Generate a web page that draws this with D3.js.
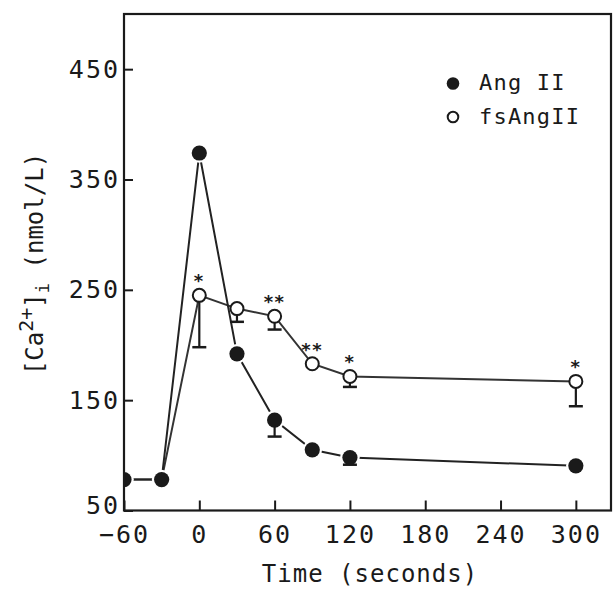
<!doctype html>
<html lang="en">
  <head>
    <meta charset="utf-8">
    <title>Ca2+ response to Ang II</title>
    <style>
      body { margin: 0; background: #fff; }
      svg { display: block; }
      text { font-family: "DejaVu Sans Mono", monospace; fill: #1a1a1a; }
    </style>
  </head>
  <body>
    <script src="https://cdn.jsdelivr.net/npm/d3@7"></script>
    <script>

// time points (seconds)
var times = [-60, -30, 0, 30, 60, 90, 120, 300];

// Ang II (filled circles)
var angII    = [78, 78, 374, 192, 132, 105, 98, 90.5];
var angIILow = [null, null, null, null, 117, null, 91.5, null];

// fsAngII (open circles)
var fsAngII    = [78, 78, 245, 233, 226, 183, 171.5, 167];
var fsAngIILow = [null, null, 198, 221, 214, null, 162, 144.5];
var fsStars    = ["", "", "*", "", "**", "**", "*", "*"];

var xTicks = [-60, 0, 60, 120, 180, 240, 300];
var yTicks = [50, 150, 250, 350, 450];

var margin = {top: 14, right: 2, bottom: 81.5, left: 124},
    width  = 613 - margin.left - margin.right,
    height = 592 - margin.top  - margin.bottom;

var svg = d3.select("body")
    .append("svg")
    .attr("width", 613)
    .attr("height", 592);

var chart = svg.append("g")
    .attr("transform", "translate(" + margin.left + "," + margin.top + ")");

var x = d3.scaleLinear().domain([-60, 328]).range([0, width]);
var y = d3.scaleLinear().domain([50, 500]).range([height, 0]);

svg.append("defs").append("clipPath").attr("id", "plotclip")
   .append("rect").attr("width", width).attr("height", height);

function rows(vals, lows) {
    return times.map(function(t, i){ return {t: t, v: vals[i], low: lows[i], i: i}; });
}
var filled = rows(angII, angIILow);
var open   = rows(fsAngII, fsAngIILow);

var line = d3.line()
    .x(function(d){ return x(d.t); })
    .y(function(d){ return y(d.v); });

var plot = chart.append("g").attr("clip-path", "url(#plotclip)");

// lines
plot.append("path").datum(open)
    .attr("d", line).attr("fill", "none")
    .attr("stroke", "#333").attr("stroke-width", 2);
plot.append("path").datum(filled)
    .attr("d", line).attr("fill", "none")
    .attr("stroke", "#222").attr("stroke-width", 2);

function errorBars(data) {
    var bars = plot.selectAll(null)
        .data(data.filter(function(d){ return d.low != null; }))
        .enter().append("g");
    bars.append("line")
        .attr("x1", function(d){ return x(d.t); })
        .attr("x2", function(d){ return x(d.t); })
        .attr("y1", function(d){ return y(d.v); })
        .attr("y2", function(d){ return y(d.low); })
        .attr("stroke", "#1a1a1a").attr("stroke-width", 2.2);
    bars.append("line")
        .attr("x1", function(d){ return x(d.t) - 7; })
        .attr("x2", function(d){ return x(d.t) + 7; })
        .attr("y1", function(d){ return y(d.low); })
        .attr("y2", function(d){ return y(d.low); })
        .attr("stroke", "#1a1a1a").attr("stroke-width", 2.5);
}

// open series
errorBars(open);
plot.selectAll(".open")
    .data(open)
    .enter().append("circle")
    .attr("class", "open")
    .attr("cx", function(d){ return x(d.t); })
    .attr("cy", function(d){ return y(d.v); })
    .attr("r", 6.5)
    .attr("fill", "#fff")
    .attr("stroke", "#1a1a1a")
    .attr("stroke-width", 2);

// filled series: white halo so lines stop short of the dots
plot.selectAll(".halo")
    .data(filled)
    .enter().append("circle")
    .attr("cx", function(d){ return x(d.t); })
    .attr("cy", function(d){ return y(d.v); })
    .attr("r", 9.8)
    .attr("fill", "#fff");
errorBars(filled);
plot.selectAll(".dot")
    .data(filled)
    .enter().append("circle")
    .attr("class", "dot")
    .attr("cx", function(d){ return x(d.t); })
    .attr("cy", function(d){ return y(d.v); })
    .attr("r", 7.6)
    .attr("fill", "#1a1a1a");

// significance stars
chart.selectAll(".star")
    .data(open.filter(function(d){ return fsStars[d.i] !== ""; }))
    .enter().append("text")
    .attr("class", "star")
    .attr("x", function(d){ return x(d.t); })
    .attr("y", function(d){ return y(d.v) - 8; })
    .attr("text-anchor", "middle")
    .attr("fill", "#111")
    .style("font-family", "'DejaVu Sans', sans-serif")
    .style("font-weight", "bold")
    .style("font-size", "18px")
    .style("letter-spacing", "1.5px")
    .text(function(d){ return fsStars[d.i]; });

// frame
chart.append("rect")
    .attr("width", width).attr("height", height)
    .attr("fill", "none")
    .attr("stroke", "#1a1a1a")
    .attr("stroke-width", 2.2);

// axes
var xAxis = chart.append("g")
    .attr("transform", "translate(0," + height + ")")
    .call(d3.axisBottom(x).tickValues(xTicks).tickSizeInner(-10).tickSizeOuter(0).tickPadding(15));
var yAxis = chart.append("g")
    .call(d3.axisLeft(y).tickValues(yTicks).tickSizeInner(-9).tickSizeOuter(0).tickPadding(4));

[xAxis, yAxis].forEach(function(a){
    a.select(".domain").remove();
    a.selectAll("line").attr("stroke", "#1a1a1a").attr("stroke-width", 2);
    a.selectAll("text")
        .attr("fill", "#222")
        .style("font-family", "'DejaVu Sans Mono', monospace")
        .style("font-size", "25px")
        .style("letter-spacing", "2px");
});
// lift the bottom y label a little so it clears "-60"
yAxis.selectAll(".tick text").filter(function(d){ return d === 50; }).attr("dy", "0.1em");

// axis titles
svg.append("text")
    .attr("x", 370).attr("y", 582)
    .attr("text-anchor", "middle")
    .attr("fill", "#222")
    .style("font-size", "24px")
    .style("letter-spacing", "1px")
    .text("Time (seconds)");

var yt = svg.append("text")
    .attr("transform", "translate(43,264) rotate(-90)")
    .attr("text-anchor", "middle")
    .attr("fill", "#222")
    .style("font-size", "24px");
yt.append("tspan").text("[Ca");
yt.append("tspan").attr("dy", -10).style("font-size", "20px").text("2+");
yt.append("tspan").attr("dy", 10).text("]");
yt.append("tspan").attr("dy", 6).style("font-size", "17px").text("i");
yt.append("tspan").attr("dy", -6).text(" (nmol/L)");

// legend
var legend = svg.append("g");
legend.append("circle").attr("cx", 453).attr("cy", 83.5).attr("r", 6.3).attr("fill", "#1a1a1a");
legend.append("circle").attr("cx", 453).attr("cy", 117).attr("r", 5.3)
      .attr("fill", "#fff").attr("stroke", "#1a1a1a").attr("stroke-width", 2);
legend.append("text").attr("x", 479).attr("y", 90)
      .attr("fill", "#222")
      .style("font-size", "22px").style("letter-spacing", "1.2px").text("Ang II");
legend.append("text").attr("x", 479).attr("y", 124)
      .attr("fill", "#222")
      .style("font-size", "22px").style("letter-spacing", "1.2px").text("fsAngII");

    </script>
  </body>
</html>
